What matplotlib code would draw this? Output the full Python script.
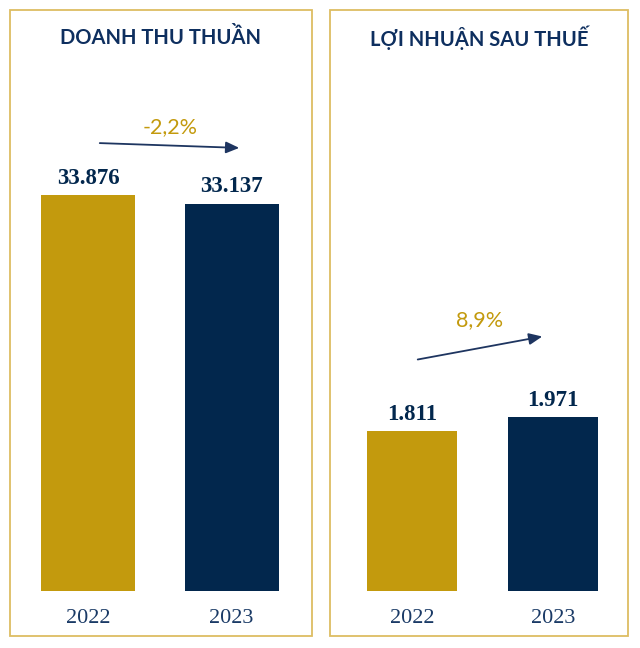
import matplotlib
matplotlib.use("Agg")
import matplotlib.pyplot as plt
from matplotlib.patches import Rectangle

years = ["2022", "2023"]
revenue = [33876, 33137]
profit = [1811, 1971]
revenue_labels = ["33.876", "33.137"]
profit_labels = ["1.811", "1.971"]
titles = ["DOANH THU THUẦN", "LỢI NHUẬN SAU THUẾ"]
growth_labels = ["-2,2%", "8,9%"]

GOLD = "#C39A0D"
NAVY = "#02274D"
BORDER = "#DDBD62"
TITLE_C = "#0E2F5F"
YEAR_C = "#1A3A66"

W, H = 640, 648
fig = plt.figure(figsize=(W / 100, H / 100), dpi=100)
fig.patch.set_facecolor("white")

def fx(px):
    return px / W

def fy(py):
    return (H - py) / H

panels = [
    dict(x0=10, x1=312, c0=88, c1=231.5, bw=94, vals=revenue, labs=revenue_labels,
         ref_px=396, arrow=((97, 143), (242, 148)), ptxt=(170, 127), title_x=161),
    dict(x0=330, x1=628, c0=412, c1=553, bw=90, vals=profit, labs=profit_labels,
         ref_px=160, arrow=((415, 360), (545, 336)), ptxt=(480, 320), title_x=479),
]

top_px, bar_bottom, panel_bottom = 10, 591, 636

for i, p in enumerate(panels):
    fig.patches.append(Rectangle((fx(p["x0"]), fy(panel_bottom)),
                                 fx(p["x1"]) - fx(p["x0"]), fy(top_px) - fy(panel_bottom),
                                 transform=fig.transFigure, fill=False,
                                 edgecolor=BORDER, linewidth=1.3))
    ax = fig.add_axes([fx(p["x0"]), fy(bar_bottom), fx(p["x1"]) - fx(p["x0"]),
                       fy(top_px) - fy(bar_bottom)])
    ax.set_facecolor("none")
    sep = p["c1"] - p["c0"]
    ax.set_xlim(-(p["c0"] - p["x0"]) / sep, (p["x1"] - p["c0"]) / sep)
    ymax = p["vals"][0] * (bar_bottom - top_px) / p["ref_px"]
    ax.set_ylim(0, ymax)
    xs = [0, 1]
    ax.bar(xs, p["vals"], width=p["bw"] / sep, color=[GOLD, NAVY])
    for x, v, lab in zip(xs, p["vals"], p["labs"]):
        ax.annotate(lab, (x, v), xytext=(0, 4.5), textcoords="offset points",
                    ha="center", va="bottom", fontsize=16.5, fontweight="bold",
                    family="Liberation Serif", color=NAVY)
    ax.set_xticks(xs)
    ax.set_xticklabels(years, family="Liberation Serif", fontsize=16, color=YEAR_C)
    ax.tick_params(axis="x", length=0, pad=13)
    ax.set_yticks([])
    for s in ax.spines.values():
        s.set_visible(False)
    fig.text(fx(p["title_x"]), fy(38), titles[i], ha="center", va="center",
             fontsize=14.5, fontweight="bold", family="Lato", color=TITLE_C)
    (ax0, ay0), (ax1, ay1) = p["arrow"]
    fig.patches.append(matplotlib.patches.FancyArrowPatch(
        (fx(ax0), fy(ay0)), (fx(ax1), fy(ay1)), transform=fig.transFigure,
        arrowstyle="-|>,head_length=8,head_width=3.5", color="#1E3560", linewidth=1.3))
    fig.text(fx(p["ptxt"][0]), fy(p["ptxt"][1]), growth_labels[i], ha="center",
             va="center", fontsize=15.5, family="Lato", color=GOLD)

fig.savefig("out.png", dpi=100, facecolor="white")
